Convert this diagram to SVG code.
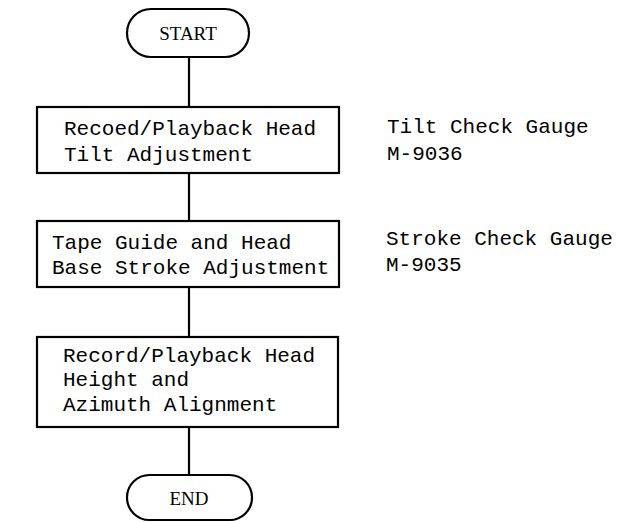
<svg xmlns="http://www.w3.org/2000/svg" width="632" height="522" viewBox="0 0 632 522">
<style>
.shape{fill:#fff;stroke:#000;stroke-width:2.2}
.t{font-family:"Liberation Mono","DejaVu Sans Mono",monospace;font-size:21px;fill:#000}
.s{font-family:"Liberation Serif","DejaVu Serif",serif;font-size:19px;fill:#000;text-anchor:middle}
.conn line{stroke:#000;stroke-width:2.2}
</style>
<rect width="632" height="522" fill="#fff"/>
<g id="connectors" class="conn">
<line x1="189" y1="57" x2="189" y2="107"/>
<line x1="189" y1="173" x2="189" y2="221"/>
<line x1="189" y1="287" x2="189" y2="337"/>
<line x1="189" y1="427" x2="189" y2="475"/>
</g>
<g id="start">
<rect class="shape" x="127" y="9" width="122" height="48" rx="24"/>
<text class="s" x="188" y="40">START</text>
</g>
<g id="box1">
<rect class="shape" x="37" y="107" width="302" height="66"/>
<text class="t" x="64" y="135">Recoed/Playback Head</text>
<text class="t" x="64" y="161">Tilt Adjustment</text>
</g>
<g id="note1">
<text class="t" x="387" y="133">Tilt Check Gauge</text>
<text class="t" x="387" y="160">M-9036</text>
</g>
<g id="box2">
<rect class="shape" x="37" y="221" width="302" height="66"/>
<text class="t" x="52" y="249">Tape Guide and Head</text>
<text class="t" x="52" y="274">Base Stroke Adjustment</text>
</g>
<g id="note2">
<text class="t" x="386" y="245">Stroke Check Gauge</text>
<text class="t" x="386" y="271">M-9035</text>
</g>
<g id="box3">
<rect class="shape" x="37" y="337" width="301" height="90"/>
<text class="t" x="63" y="362">Record/Playback Head</text>
<text class="t" x="63" y="386">Height and</text>
<text class="t" x="63" y="411">Azimuth Alignment</text>
</g>
<g id="end">
<rect class="shape" x="127" y="475" width="125" height="45" rx="22.5"/>
<text class="s" x="189" y="505">END</text>
</g>
</svg>
